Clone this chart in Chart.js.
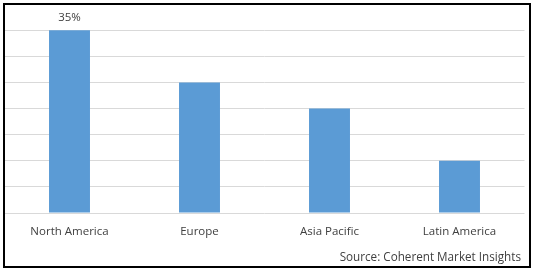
<!DOCTYPE html>
<html>
<head>
<meta charset="utf-8">
<script src="https://cdn.jsdelivr.net/npm/chart.js@4/dist/chart.umd.min.js"></script>
<style>
  body { margin: 0; background: #fff; }
  #wrap { position: relative; width: 538px; height: 272px; }
  #frame { position: absolute; left: 3px; top: 3px; width: 524px; height: 261px; border: 2px solid #000; pointer-events: none; }
  #source { position: absolute; right: 17px; top: 248px; font: 11.7px "Open Sans", sans-serif; color: #404040; }
</style>
</head>
<body>
<div id="wrap">
  <canvas id="myChart" width="538" height="272"></canvas>
  <div id="frame"></div>
  <div id="source">Source: Coherent Market Insights</div>
</div>
<script>
const regions = ['North America', 'Europe', 'Asia Pacific', 'Latin America'];
const shares = [35, 25, 20, 10];
const shareLabels = ['35%', '', '', ''];

// writes the share text above the bars that have one
const barLabels = {
    id: 'barLabels',
    afterDatasetsDraw(chart) {
        const ctx = chart.ctx;
        const bars = chart.getDatasetMeta(0).data;
        ctx.save();
        ctx.font = '11.5px "Open Sans", sans-serif';
        ctx.fillStyle = '#404040';
        ctx.textAlign = 'center';
        ctx.textBaseline = 'middle';
        bars.forEach((bar, i) => {
            if (shareLabels[i]) ctx.fillText(shareLabels[i], bar.x, bar.y - 12);
        });
        ctx.restore();
    }
};

const ctx = document.getElementById('myChart').getContext('2d');
new Chart(ctx, {
    type: 'bar',
    data: {
        labels: regions,
        datasets: [{
            data: shares,
            backgroundColor: '#5B9BD5',
            barPercentage: 0.315,
            categoryPercentage: 1
        }]
    },
    options: {
        responsive: false,
        animation: false,
        layout: { padding: { left: 4.5, right: 13.5, top: 4, bottom: 29 } },
        plugins: {
            legend: { display: false },
            tooltip: { enabled: false }
        },
        scales: {
            x: {
                grid: { display: false, drawTicks: false },
                border: { display: false },
                ticks: {
                    padding: 12,
                    color: '#404040',
                    font: { family: 'Open Sans', size: 11.5 }
                },
                afterFit(scale) { scale.height = 30; }
            },
            y: {
                min: 0,
                max: 40,
                ticks: { display: false, stepSize: 5 },
                grid: { color: '#D9D9D9', drawTicks: false },
                border: { display: false },
                afterFit(scale) { scale.width = 0; }
            }
        }
    },
    plugins: [barLabels]
});
</script>
</body>
</html>
